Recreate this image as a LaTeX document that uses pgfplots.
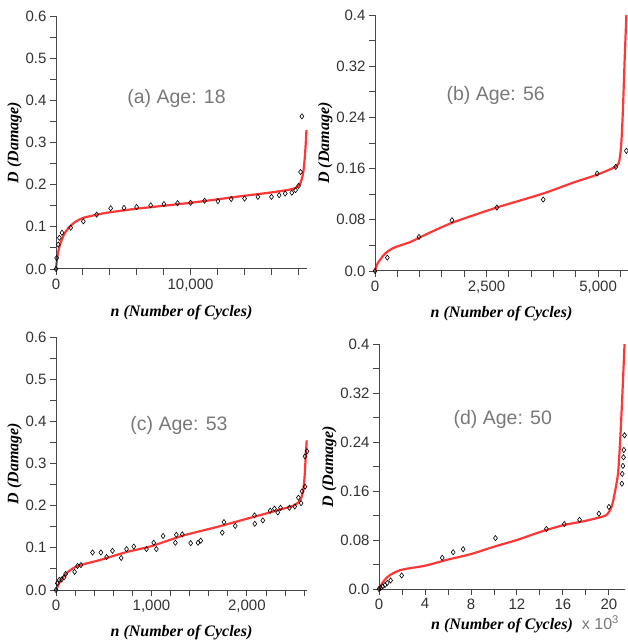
\documentclass[border=0pt]{standalone}
\usepackage{pgfplots}
\pgfplotsset{compat=1.18}
\usepackage{fontspec}
\setmainfont{Liberation Serif}
\newfontfamily\ticksf{Liberation Sans}

\definecolor{fitred}{RGB}{255,55,55}
\definecolor{axgray}{RGB}{70,70,70}
\definecolor{titlegray}{RGB}{120,120,120}
\definecolor{ticktext}{RGB}{50,50,50}

\tikzset{ttl/.style={font=\ticksf\fontsize{19.5}{19.5}\selectfont, text=titlegray}}

\pgfplotsset{
  panel/.style={
    scale only axis, width=251pt, height=253pt,
    axis line style={draw=none},
    tick pos=left,
    tick align=outside,
    major tick length=6pt, minor tick length=6pt,
    tick style={draw=axgray, line width=0.9pt},
    scaled ticks=false,
    tick label style={font=\ticksf\fontsize{15}{15}\selectfont, text=ticktext},
    label style={font=\bfseries\itshape\fontsize{16}{16}\selectfont},
    xlabel={n (Number of Cycles)},
    ylabel={D (Damage)},
    ylabel style={yshift=-3pt},
    ymin=0, clip=false,
    xmin=0,
    execute at end axis={\draw[axgray, line width=1pt] (rel axis cs:0,1) -- (rel axis cs:0,0) -- (rel axis cs:1,0);},
  },
  agey06/.style={ymax=0.6, ytick={0,0.1,...,0.6},
    yticklabels={0.0,0.1,0.2,0.3,0.4,0.5,0.6},
    minor ytick={0.05,0.15,...,0.55}},
  agey04/.style={ymax=0.4, ytick={0,0.08,0.16,0.24,0.32,0.4},
    yticklabels={0.0,0.08,0.16,0.24,0.32,0.4},
    minor ytick={0.04,0.12,0.20,0.28,0.36}},
  fit/.style={fitred, line width=2.2pt, no marks, smooth, tension=0.45},
  obs/.style={only marks, mark=diamond, mark size=2.6pt,
    mark options={black, fill=white, line width=0.6pt}},
}

\begin{document}
\begin{tikzpicture}
\useasboundingbox (0,0) rectangle (628pt,643pt);

% (a) Age 18
\begin{axis}[panel, agey06, at={(56pt,374pt)}, anchor=south west,
  xmax=18650, xtick={0,10000}, xticklabels={0,{10,000}},
  minor xtick={2000,4000,...,18000},
  xlabel style={yshift=-7pt}]
\addplot[fit] coordinates {(0,0) (80,0.025) (180,0.043) (300,0.058) (600,0.082) (1000,0.100)
  (1500,0.113) (2000,0.121) (2500,0.125) (3700,0.133) (6000,0.143) (10000,0.157)
  (13600,0.172) (16100,0.182) (17600,0.190) (18100,0.200) (18350,0.225) (18480,0.262)
  (18560,0.300) (18610,0.330)};
\addplot[obs] coordinates {(0,0) (50,0.026) (170,0.058) (250,0.074) (445,0.086) (1090,0.098)
  (2030,0.113) (3020,0.129) (4060,0.144) (5050,0.145) (5990,0.147) (7030,0.151)
  (8020,0.154) (9030,0.156) (10000,0.157) (11040,0.162) (12030,0.161) (13020,0.166)
  (14010,0.167) (15000,0.171) (16010,0.171) (16580,0.175) (17030,0.179) (17520,0.181)
  (17800,0.187) (18020,0.197) (18170,0.230) (18270,0.362)};
\node[ttl] at (rel axis cs:0.48,0.675) {(a) Age: 18};
\end{axis}

% (b) Age 56
\begin{axis}[panel, agey04, at={(375pt,372pt)}, anchor=south west,
  width=253pt, height=256pt,
  xmax=5670, xtick={0,2500,5000}, xticklabels={0,{2,500},{5,000}},
  minor xtick={500,1000,...,5500},
  xlabel style={yshift=-6pt}]
\addplot[fit] coordinates {(0,0) (60,0.012) (224,0.027) (410,0.036) (783,0.045) (992,0.052)
  (1231,0.060) (1753,0.076) (2723,0.099) (3767,0.121) (4439,0.138) (4961,0.150)
  (5334,0.161) (5460,0.168) (5515,0.195) (5555,0.250) (5595,0.330) (5634,0.400)};
\addplot[obs] coordinates {(0,0) (276,0.0209) (985,0.0532) (1724,0.0793) (2731,0.0991)
  (3769,0.1116) (4978,0.1523) (5396,0.1627) (5634,0.1877)};
\node[ttl] at (rel axis cs:0.477,0.687) {(b) Age: 56};
\end{axis}

% (c) Age 53
\begin{axis}[panel, agey06, at={(56pt,53pt)}, anchor=south west,
  xmax=2630, xtick={0,1000,2000}, xticklabels={0,{1,000},{2,000}},
  minor xtick={200,400,...,2600},
  xlabel style={yshift=-6pt}]
\addplot[fit] coordinates {(0,0) (42,0.020) (111,0.040) (199,0.054) (321,0.063) (460,0.071)
  (739,0.090) (1000,0.104) (1331,0.129) (1679,0.149) (2000,0.169) (2306,0.188)
  (2498,0.201) (2560,0.214) (2590,0.235) (2605,0.270) (2615,0.310) (2627,0.355)};
\addplot[obs] coordinates {(0,0) (14,0.016) (35,0.024) (59,0.025) (84,0.030) (101,0.038)
  (195,0.043) (226,0.057) (261,0.059) (383,0.089) (470,0.089) (530,0.078) (592,0.093)
  (683,0.076) (739,0.097) (815,0.103) (948,0.097) (1024,0.112) (1052,0.097) (1122,0.128)
  (1251,0.112) (1261,0.131) (1324,0.132) (1411,0.111) (1488,0.112) (1516,0.117)
  (1742,0.136) (1760,0.161) (1878,0.152) (2080,0.177) (2083,0.157) (2167,0.165)
  (2244,0.188) (2289,0.193) (2324,0.184) (2352,0.195) (2446,0.195) (2502,0.198)
  (2540,0.219) (2568,0.206) (2578,0.234) (2609,0.245) (2609,0.317) (2630,0.329)};
\node[ttl] at (rel axis cs:0.49,0.652) {(c) Age: 53};
\end{axis}

% (d) Age 50
\begin{axis}[panel, agey04, at={(379pt,54pt)}, anchor=south west,
  width=246pt, height=245pt,
  xmax=21.4, xtick={0,4,...,20}, xticklabels={0,4,8,12,16,20},
  minor xtick={2,6,...,18},
  xlabel style={yshift=-2pt, name=xl}]
\addplot[fit] coordinates {(0,0) (0.3,0.010) (0.7,0.019) (1.25,0.026) (2.1,0.032) (4,0.038)
  (6,0.048) (8,0.057) (10,0.069) (12,0.080) (14,0.093) (16,0.104) (17.9,0.111)
  (19.2,0.117) (19.8,0.121) (20.23,0.134) (20.5,0.156) (20.8,0.190) (21.0,0.250)
  (21.2,0.330) (21.36,0.400)};
\addplot[obs] coordinates {(0,0) (0.14,0.0016) (0.32,0.0043) (0.52,0.0065) (0.72,0.0098)
  (1.01,0.014) (1.97,0.022) (5.50,0.051) (6.45,0.060) (7.32,0.065) (10.13,0.083)
  (14.56,0.098) (16.12,0.106) (17.45,0.113) (19.13,0.123) (20.0,0.134) (21.13,0.172)
  (21.16,0.188) (21.22,0.201) (21.27,0.215) (21.30,0.227) (21.36,0.251)};
\node[ttl] at (rel axis cs:0.503,0.69) {(d) Age: 50};
\end{axis}
\node[anchor=base west, font=\ticksf\fontsize{16}{16}\selectfont, text=titlegray, xshift=2pt]
  at (xl.base east) {x 10\textsuperscript{3}};
\end{tikzpicture}
\end{document}
